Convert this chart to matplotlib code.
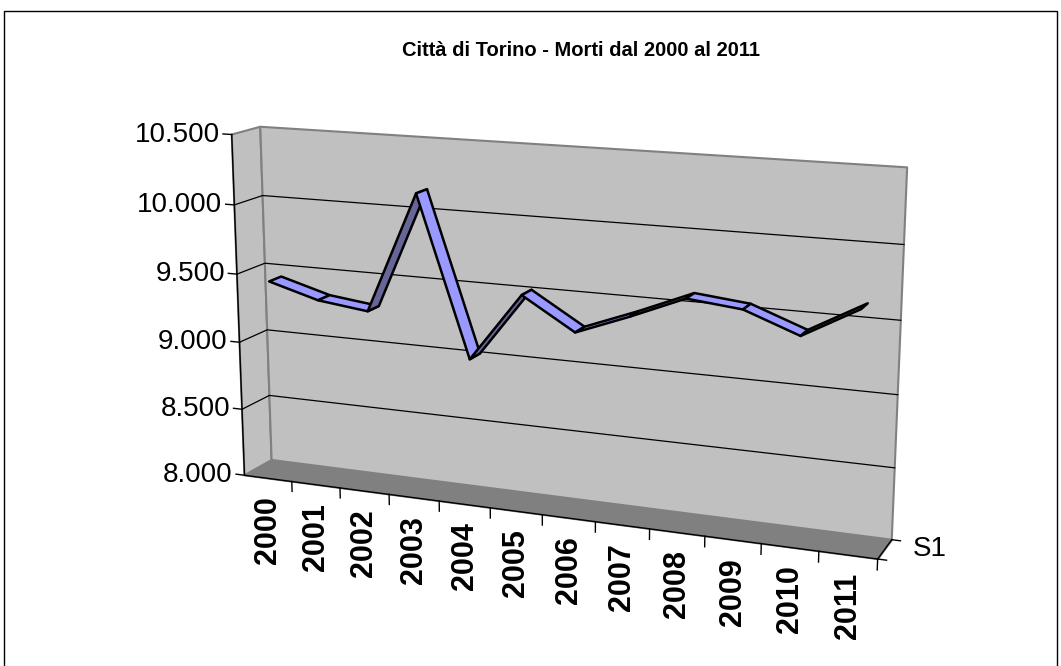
import matplotlib
matplotlib.use('Agg')
import matplotlib.pyplot as plt
from matplotlib.patches import Rectangle
from matplotlib.transforms import offset_copy
from mpl_toolkits.mplot3d import proj3d
from mpl_toolkits.mplot3d.art3d import Poly3DCollection
import numpy as np

# ============================================================
# DATA
# ============================================================
YEARS = ['2000', '2001', '2002', '2003', '2004', '2005',
         '2006', '2007', '2008', '2009', '2010', '2011']
DEATHS = [9440, 9336, 9291, 10156, 9020, 9509, 9284, 9429, 9587, 9548, 9407, 9620]
Y_TICKS = [8000, 8500, 9000, 9500, 10000, 10500]
Y_TICK_LABELS = ['8.000', '8.500', '9.000', '9.500', '10.000', '10.500']
SERIES_NAME = 'S1'
TITLE = 'Città di Torino - Morti dal 2000 al 2011'

# ============================================================
# STYLE
# ============================================================
ELEV, AZIM = 14, -68
BOX = (1, 0.085, 0.533)
WALL = '#C0C0C0'
FLOOR = '#808080'
EDGE = '#808080'
RIBBON_TOP = '#9999FF'
RIBBON_BOTTOM = '#666699'
D0, D1 = 0.28, 0.72        # ribbon depth inside the series row

plt.rcParams['font.family'] = ['Liberation Sans', 'DejaVu Sans']

W, H = 1061, 666
fig = plt.figure(figsize=(W / 100, H / 100), dpi=100)

# chart border
fig.add_artist(Rectangle((4 / W, -0.01), (1057 - 4) / W, 1 - 11 / H + 0.01,
                         transform=fig.transFigure, fill=False,
                         edgecolor='black', linewidth=1))
fig.text(581 / W, 1 - 50 / H, TITLE, ha='center', va='center',
         fontsize=14.5, fontweight='bold')

side = 900
cx, cy = 541, 344
ax = fig.add_axes([(cx - side / 2) / W, 1 - (cy + side / 2) / H, side / W, side / H],
                  projection='3d', computed_zorder=False)
ax.set_proj_type('persp', focal_length=0.43)
ax.view_init(elev=ELEV, azim=AZIM)
ax.set_box_aspect(BOX, zoom=0.843)
ax.set_axis_off()

n = len(YEARS)
x0, x1 = -0.5, n - 0.5
z0, z1 = Y_TICKS[0], Y_TICKS[-1]

# walls and floor
back = [(x0, 1, z0), (x1, 1, z0), (x1, 1, z1), (x0, 1, z1)]
left = [(x0, 0, z0), (x0, 1, z0), (x0, 1, z1), (x0, 0, z1)]
floor = [(x0, 0, z0), (x1, 0, z0), (x1, 1, z0), (x0, 1, z0)]
ax.add_collection3d(Poly3DCollection([back, left], facecolors=WALL, edgecolors=EDGE,
                                     linewidths=1.5, zorder=1))
ax.add_collection3d(Poly3DCollection([floor], facecolors=FLOOR, edgecolors=EDGE,
                                     linewidths=1.0, zorder=2))

# gridlines on back and left wall
for v in Y_TICKS[1:-1]:
    ax.plot([x0, x0, x1], [0, 1, 1], [v, v, v], color='black', lw=0.9, zorder=3)

# ribbon, face colour by which side of it faces the viewer
scale_x = BOX[0] / n
scale_z = BOX[2] / (z1 - z0)
cam = np.array([np.cos(np.radians(ELEV)) * np.cos(np.radians(AZIM)),
                np.sin(np.radians(ELEV))])
quads, colors = [], []
for i in range(n - 1):
    v0, v1 = DEATHS[i], DEATHS[i + 1]
    quads.append([(i, D0, v0), (i + 1, D0, v1), (i + 1, D1, v1), (i, D1, v0)])
    normal = np.array([-(v1 - v0) * scale_z, scale_x])
    colors.append(RIBBON_TOP if normal @ cam > 0 else RIBBON_BOTTOM)
ax.add_collection3d(Poly3DCollection(quads, facecolors=colors, edgecolors='black',
                                     linewidths=1.8, zorder=4))

# axis lines and ticks
ax.plot([x0, x0], [0, 0], [z0, z1], color='black', lw=1, zorder=5)
for v in Y_TICKS:
    ax.plot([x0, x0 - 0.18], [0, 0], [v, v], color='black', lw=1, zorder=5)
ax.plot([x0, x1], [0, 0], [z0, z0], color='black', lw=1, zorder=5)
for k in range(1, n + 1):
    ax.plot([x0 + k, x0 + k], [0, 0], [z0, z0 - 75], color='black', lw=1, zorder=5)
ax.plot([x1, x1], [0, 1], [z0, z0], color='black', lw=1, zorder=5)
for d in (0, 1):
    ax.plot([x1, x1 + 0.15], [d, d], [z0, z0], color='black', lw=1, zorder=5)

ax.set_xlim(x0, x1)
ax.set_ylim(0, 1)
ax.set_zlim(z0, z1)

# tick labels: anchor on the projected axis points, offset in pixels
M = ax.get_proj()


def label(x, y, z, s, dx, dy, **kw):
    px, py, _ = proj3d.proj_transform(x, y, z, M)
    tr = offset_copy(ax.transData, fig=fig, x=dx, y=dy, units='dots')
    ax.text2D(px, py, s, transform=tr, zorder=6, **kw)


for v, lab in zip(Y_TICKS, Y_TICK_LABELS):
    label(x0, 0, v, lab, -12, 0, ha='right', va='center', fontsize=20)
for i, lab in enumerate(YEARS):
    label(i, 0, z0, lab, 0, -18, ha='center', va='top', rotation=90,
          fontsize=22, fontweight='bold')
label(x1, 0.5, z0, SERIES_NAME, 28, 0, ha='left', va='center', fontsize=20)

fig.savefig('out.png', dpi=100, facecolor='white')
plt.close(fig)
